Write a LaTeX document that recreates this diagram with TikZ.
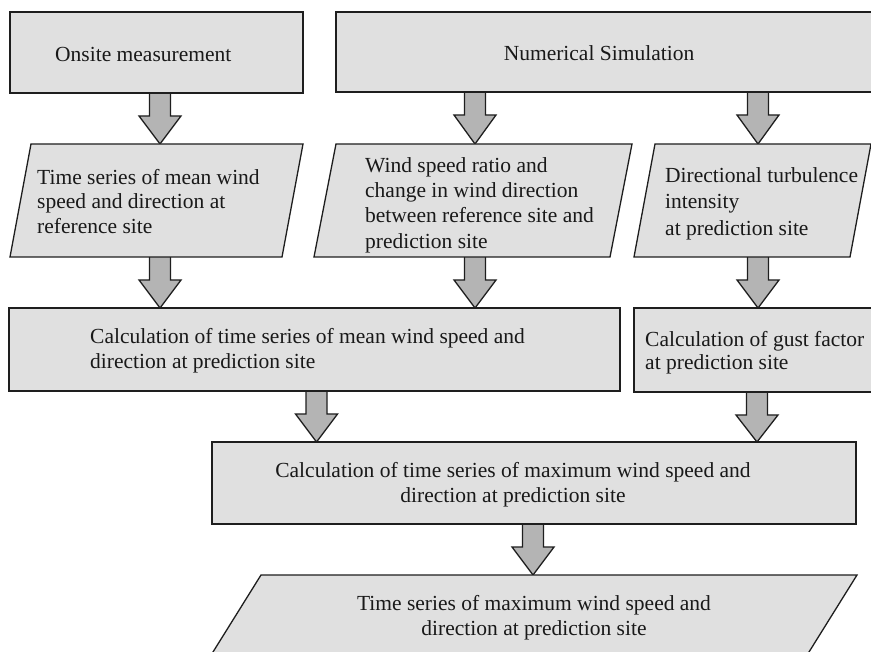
\documentclass[tikz,border=0pt]{standalone}
\usepackage{fontspec}
\setmainfont{Liberation Serif}
\usetikzlibrary{calc}
\pgfdeclarelayer{bg}
\pgfsetlayers{bg,main}
\definecolor{boxfill}{RGB}{224,224,224}
\definecolor{arrfill}{RGB}{180,180,180}
\definecolor{edge}{RGB}{30,30,30}
\definecolor{ink}{RGB}{25,25,25}
\newcommand\fsz[1][25]{\fontsize{21.5}{#1}\selectfont}
\newcommand\blockarrow[3]{%
  \coordinate (ax) at (#1,0);
  \draw[barrow] ($(ax|-#2.south)+(-10.5,0)$) -- ++(0,23) -- ++(-10.5,0)
    -- (ax|-#3.north) -- ($(ax|-#2.south)+(21,23)$) -- ++(-10.5,0)
    -- ($(ax|-#2.south)+(10.5,0)$);}
\begin{document}
\begin{tikzpicture}[x=1pt,y=-1pt,
  box/.style={draw=edge, fill=boxfill, line width=1.3pt, inner sep=0pt, outer sep=0pt, anchor=north west},
  pframe/.style={inner sep=0pt, outer sep=0pt, anchor=north west},
  pshape/.style={draw=edge, fill=boxfill, line width=1.3pt, line join=miter},
  barrow/.style={draw=edge, fill=arrfill, line width=1.3pt, line join=miter},
  txt/.style={font=\fsz, text=ink, inner sep=0pt, align=left, anchor=north west},
  ctxt/.style={txt, align=center, anchor=north}]
\useasboundingbox (0,0) rectangle (871,652);
\clip (0,0) rectangle (871,652);

% rectangles
\node[box, minimum width=293pt, minimum height=81pt] (onsite) at (10,12) {};
\node[box, minimum width=545pt, minimum height=80pt] (numsim) at (336,12) {};
\node[box, minimum width=611pt, minimum height=83pt] (mean) at (9,308) {};
\node[box, minimum width=250pt, minimum height=84pt] (gust) at (634,308) {};
\node[box, minimum width=644pt, minimum height=82pt] (max) at (212,442) {};

% parallelograms
\node[pframe, minimum width=293pt, minimum height=113pt] (p1) at (10,144) {};
\node[pframe, minimum width=318pt, minimum height=113pt] (p2) at (314,144) {};
\node[pframe, minimum width=237pt, minimum height=113pt] (p3) at (634,144) {};
\node[pframe, minimum width=649pt, minimum height=85pt] (fin) at (208,575) {};
\draw[pshape] ($(p1.north west)+(21,0)$) -- (p1.north east) -- ($(p1.south east)+(-21,0)$) -- (p1.south west) -- cycle;
\draw[pshape] ($(p2.north west)+(22,0)$) -- (p2.north east) -- ($(p2.south east)+(-22,0)$) -- (p2.south west) -- cycle;
\draw[pshape] ($(p3.north west)+(21,0)$) -- (p3.north east) -- ($(p3.south east)+(-21,0)$) -- (p3.south west) -- cycle;
\draw[pshape] ($(fin.north west)+(53,0)$) -- (fin.north east) -- ($(fin.south east)+(-53,0)$) -- (fin.south west) -- cycle;

% texts
\node[txt] (tonsite) at (55,46) {\rule{0pt}{15pt}Onsite measurement};
\node[ctxt] (tnumsim) at (599,45) {\rule{0pt}{15pt}Numerical Simulation};
\node[txt, font={\fsz[24.5]}] (tp1) at (37,169) {\rule{0pt}{15pt}Time series of mean wind\\speed and direction at\\reference site};
\node[txt, font={\fsz[25.3]}] (tp2) at (365,157) {\rule{0pt}{15pt}Wind speed ratio and\\change in wind direction\\between reference site and\\prediction site};
\node[txt, font={\fsz[26.5]}] (tp3) at (665,167) {\rule{0pt}{15pt}Directional turbulence\\intensity\\at prediction site};
\node[txt] (tmean) at (90,328) {\rule{0pt}{15pt}Calculation of time series of mean wind speed and\\direction at prediction site};
\node[txt, font={\fsz[23.5]}] (tgust) at (645,331) {\rule{0pt}{15pt}Calculation of gust factor\\at prediction site};
\node[ctxt] (tmax) at (513,462) {\rule{0pt}{15pt}Calculation of time series of maximum wind speed and\\direction at prediction site};
\node[ctxt] (tfin) at (534,595) {\rule{0pt}{15pt}Time series of maximum wind speed and\\direction at prediction site};

% block arrows (behind the boxes)
\begin{pgfonlayer}{bg}
\fill[white] (0,0) rectangle (871,652);
\blockarrow{160}{onsite}{p1}
\blockarrow{475}{numsim}{p2}
\blockarrow{758}{numsim}{p3}
\blockarrow{160}{p1}{mean}
\blockarrow{475}{p2}{mean}
\blockarrow{758}{p3}{gust}
\blockarrow{316.5}{mean}{max}
\blockarrow{757}{gust}{max}
\blockarrow{533}{max}{fin}
\end{pgfonlayer}
\end{tikzpicture}
\end{document}
